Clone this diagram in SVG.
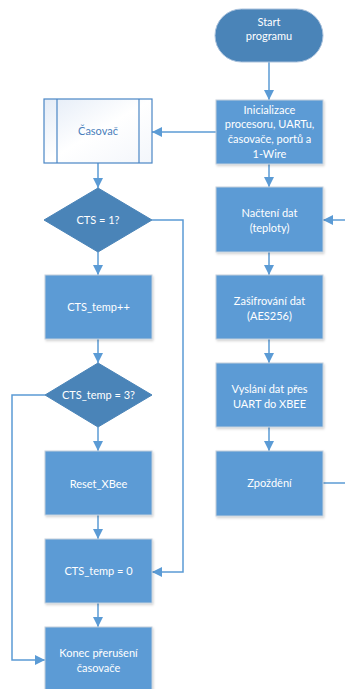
<svg xmlns="http://www.w3.org/2000/svg" width="345" height="689" viewBox="0 0 345 689">
  <defs>
    <marker id="arrow" markerUnits="userSpaceOnUse" markerWidth="10" markerHeight="10" viewBox="0 0 10 10" refX="10" refY="5" orient="auto">
      <path d="M0,0 L10,5 L0,10 Z" fill="#5b9bd5"/>
    </marker>
    <linearGradient id="subFill" x1="0" y1="0" x2="1" y2="1">
      <stop offset="0" stop-color="#e4ecf7"/>
      <stop offset="0.5" stop-color="#ffffff"/>
      <stop offset="1" stop-color="#f3f6fb"/>
    </linearGradient>
    <filter id="shadow" x="-10%" y="-10%" width="130%" height="130%">
      <feDropShadow dx="1" dy="1.5" stdDeviation="1" flood-color="#000" flood-opacity="0.18"/>
    </filter>
  </defs>
  <style>
    .proc { fill: #5b9bd5; stroke: #c3cfdc; stroke-width: 1; filter: url(#shadow); }
    .dec { fill: #4a84b8; stroke: #4a84b8; stroke-width: 1; }
    .term { fill: #4a84b8; stroke: #a9c1dc; stroke-width: 1; }
    .sub { fill: url(#subFill); stroke: #4a86c5; stroke-width: 1.2; }
    .lbl { font-family: Lato, "Open Sans", "Noto Sans", sans-serif; font-size: 11px; fill: #ffffff; text-anchor: middle; }
    .lbl-blue { fill: #4a7ebb; }
    .conn { fill: none; stroke: #5b9bd5; stroke-width: 1.5; }
  </style>

  <!-- connectors -->
  <g id="connectors">
    <path class="conn" d="M269,62 V100" marker-end="url(#arrow)"/>
    <path class="conn" d="M269,164 V187" marker-end="url(#arrow)"/>
    <path class="conn" d="M269,252 V275" marker-end="url(#arrow)"/>
    <path class="conn" d="M269,339 V363" marker-end="url(#arrow)"/>
    <path class="conn" d="M269,427 V451" marker-end="url(#arrow)"/>
    <path class="conn" d="M323,483 H345"/>
    <path class="conn" d="M345,220 H323" marker-end="url(#arrow)"/>
    <path class="conn" d="M216,132 H152" marker-end="url(#arrow)"/>
    <path class="conn" d="M98,163 V188" marker-end="url(#arrow)"/>
    <path class="conn" d="M98,252 V275" marker-end="url(#arrow)"/>
    <path class="conn" d="M98,339 V363" marker-end="url(#arrow)"/>
    <path class="conn" d="M98,427 V451" marker-end="url(#arrow)"/>
    <path class="conn" d="M98,515 V539" marker-end="url(#arrow)"/>
    <path class="conn" d="M98,603 V627" marker-end="url(#arrow)"/>
    <path class="conn" d="M152,220 H183 V572 H152" marker-end="url(#arrow)"/>
    <path class="conn" d="M45,395 H12 V660 H45" marker-end="url(#arrow)"/>
  </g>

  <!-- main program column -->
  <g id="start">
    <rect class="term" x="215" y="9" width="108" height="53" rx="26.5"/>
    <text class="lbl" x="269" y="26">Start</text>
    <text class="lbl" x="269" y="40">programu</text>
  </g>
  <g id="init">
    <rect class="proc" x="216" y="100" width="107" height="64"/>
    <text class="lbl" x="269.5" y="114">Inicializace</text>
    <text class="lbl" x="269.5" y="128">procesoru, UARTu,</text>
    <text class="lbl" x="269.5" y="143">časovače, portů a</text>
    <text class="lbl" x="269.5" y="158">1-Wire</text>
  </g>
  <g id="read">
    <rect class="proc" x="216" y="187" width="107" height="65"/>
    <text class="lbl" x="269.5" y="217">Načtení dat</text>
    <text class="lbl" x="269.5" y="232">(teploty)</text>
  </g>
  <g id="encrypt">
    <rect class="proc" x="216" y="275" width="107" height="64"/>
    <text class="lbl" x="269.5" y="305">Zašifrování dat</text>
    <text class="lbl" x="269.5" y="320">(AES256)</text>
  </g>
  <g id="send">
    <rect class="proc" x="216" y="363" width="107" height="64"/>
    <text class="lbl" x="269.5" y="393">Vyslání dat přes</text>
    <text class="lbl" x="269.5" y="408">UART do XBEE</text>
  </g>
  <g id="delay">
    <rect class="proc" x="216" y="451" width="107" height="65"/>
    <text class="lbl" x="269.5" y="487">Zpoždění</text>
  </g>

  <!-- timer interrupt column -->
  <g id="timer">
    <rect class="sub" x="44" y="99" width="108" height="64"/>
    <line x1="57" y1="99" x2="57" y2="163" stroke="#4a86c5" stroke-width="1.2"/>
    <line x1="139" y1="99" x2="139" y2="163" stroke="#4a86c5" stroke-width="1.2"/>
    <text class="lbl lbl-blue" x="98" y="135">Časovač</text>
  </g>
  <g id="cts-check">
    <polygon class="dec" points="98,188 152,220 98,252 44,220"/>
    <text class="lbl" x="98" y="224">CTS = 1?</text>
  </g>
  <g id="cts-inc">
    <rect class="proc" x="45" y="275" width="107" height="64"/>
    <text class="lbl" x="98.5" y="311">CTS_temp++</text>
  </g>
  <g id="cts-temp-check">
    <polygon class="dec" points="98,363 152,395 98,427 45,395"/>
    <text class="lbl" x="98.5" y="399">CTS_temp = 3?</text>
  </g>
  <g id="reset-xbee">
    <rect class="proc" x="45" y="451" width="107" height="64"/>
    <text class="lbl" x="98.5" y="488">Reset_XBee</text>
  </g>
  <g id="cts-clear">
    <rect class="proc" x="45" y="539" width="107" height="64"/>
    <text class="lbl" x="98.5" y="575">CTS_temp = 0</text>
  </g>
  <g id="isr-end">
    <rect class="proc" x="45" y="627" width="107" height="64"/>
    <text class="lbl" x="98.5" y="657">Konec přerušení</text>
    <text class="lbl" x="98.5" y="672">časovače</text>
  </g>
</svg>
